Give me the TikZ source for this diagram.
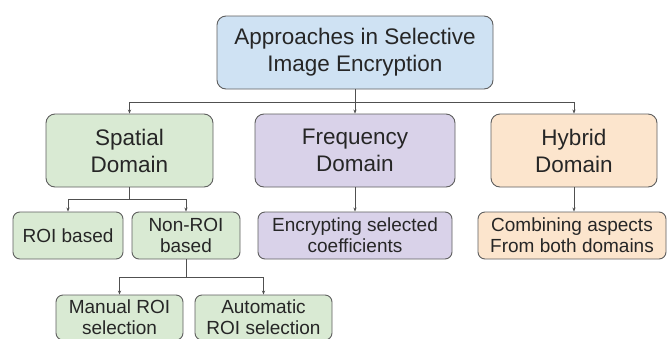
\documentclass[tikz,border=0pt]{standalone}
\usepackage{fontspec}
\setmainfont{Liberation Sans}
\usetikzlibrary{arrows.meta}
\definecolor{bluefill}{HTML}{CFE2F3}
\definecolor{greenfill}{HTML}{D9EAD3}
\definecolor{purplefill}{HTML}{D9D2E9}
\definecolor{orangefill}{HTML}{FCE5CD}
\definecolor{edgegrey}{HTML}{5F5F5F}
\definecolor{linegrey}{HTML}{505050}
\tikzset{
  box/.style={draw=edgegrey, line width=0.9pt, rounded corners=9pt, align=center,
    inner sep=0pt, text=black!85},
  big/.style={box, font=\fontsize{22.5}{27}\selectfont},
  small/.style={box, rounded corners=7pt, font=\fontsize{19}{21}\selectfont},
  link/.style={draw=linegrey, line width=0.8pt,
    -{Stealth[length=4pt,width=3.2pt]}},
}
\begin{document}
\begin{tikzpicture}[x=1pt,y=-1pt]
  \useasboundingbox (0,0) rectangle (667,338);
  \clip (0,0) rectangle (667,338);
  \fill[white] (0,0) rectangle (667,338);

  % top level
  \node[big, fill=bluefill, minimum width=276pt, minimum height=73pt]
    (top) at (355,52.5) {Approaches in Selective\\Image Encryption};

  % domains
  \node[big, fill=greenfill, minimum width=167pt, minimum height=73pt]
    (spatial) at (129.5,150.5) {Spatial\\Domain};
  \node[big, fill=purplefill, minimum width=200pt, minimum height=73pt]
    (freq) at (355,150.5) {Frequency\\Domain};
  \node[big, fill=orangefill, minimum width=166pt, minimum height=73pt]
    (hybrid) at (574,150.5) {Hybrid\\Domain};

  % second level
  \node[small, fill=greenfill, minimum width=110pt, minimum height=47pt]
    (roi) at (68,235.5) {ROI based};
  \node[small, fill=greenfill, minimum width=108pt, minimum height=47pt]
    (nonroi) at (186,235.5) {Non-ROI\\based};
  \node[small, fill=purplefill, minimum width=194pt, minimum height=47pt]
    (enc) at (355,235.5) {Encrypting selected\\coefficients};
  \node[small, fill=orangefill, minimum width=188pt, minimum height=47pt]
    (comb) at (572,235.5) {Combining aspects\\From both domains};

  % third level (runs past the lower edge)
  \node[small, fill=greenfill, minimum width=127pt, minimum height=45pt]
    (manual) at (119.5,317.5) {Manual ROI\\selection};
  \node[small, fill=greenfill, minimum width=137pt, minimum height=45pt]
    (auto) at (263.5,317.5) {Automatic\\ROI selection};

  % connectors
  \draw[link] (top.south) -- ++(0,13) -| (spatial.north);
  \draw[link] (top.south) -- (freq.north);
  \draw[link] (top.south) -- ++(0,13) -| (hybrid.north);

  \draw[link] (spatial.south) -- ++(0,12) -| (roi.north);
  \draw[link] (spatial.south) -- ++(0,12) -| (nonroi.north);
  \draw[link] (freq.south) -- (enc.north);
  \draw[link] (hybrid.south) -- (hybrid.south |- comb.north);

  \draw[link] (nonroi.south) -- ++(0,18) -| (manual.north);
  \draw[link] (nonroi.south) -- ++(0,18) -| (auto.north);
\end{tikzpicture}
\end{document}
